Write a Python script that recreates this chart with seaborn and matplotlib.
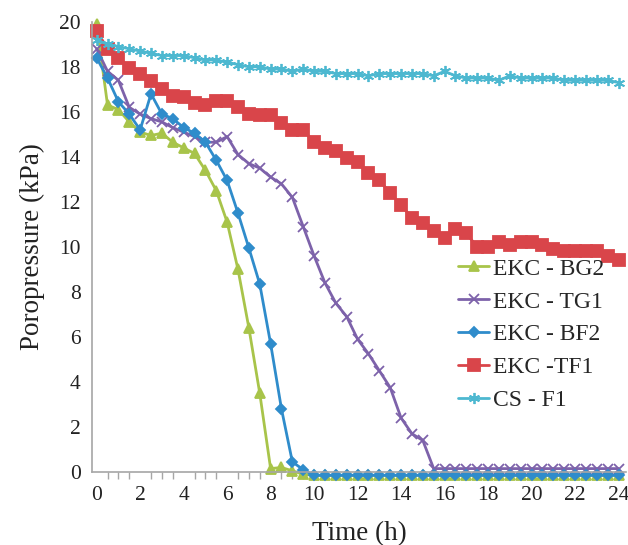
import numpy as np
import pandas as pd
import matplotlib
matplotlib.use("Agg")
import matplotlib.pyplot as plt
import seaborn as sns
from matplotlib.ticker import MultipleLocator

# Tiempo (h), un dato cada media hora
time_h = np.arange(0, 24.5, 0.5)

bg2 = [19.9, 16.3, 16.1, 15.55, 15.1, 14.95, 15.05, 14.65, 14.4, 14.15, 13.4, 12.5,
       11.1, 9.0, 6.4, 3.5, 0.15, 0.2, 0.05, -0.1] + [-0.15] * 29
tg1 = [18.8, 17.8, 17.4, 16.2, 15.9, 15.7, 15.55, 15.3, 15.1, 14.9, 14.65, 14.65,
       14.9, 14.1, 13.7, 13.5, 13.1, 12.8, 12.2, 10.9, 9.6, 8.4, 7.5, 6.9, 5.9,
       5.25, 4.5, 3.75, 2.4, 1.7, 1.4, 0.15] + [0.15] * 17
bf2 = [18.4, 17.5, 16.45, 15.9, 15.2, 16.8, 15.9, 15.7, 15.3, 15.05, 14.65, 13.85,
       12.95, 11.5, 9.95, 8.35, 5.7, 2.8, 0.45, 0.1] + [-0.15] * 29
tf1 = [19.6, 18.8, 18.4, 17.95, 17.7, 17.35, 17.0, 16.7, 16.65, 16.4, 16.3, 16.5,
       16.5, 16.2, 15.9, 15.85, 15.85, 15.5, 15.2, 15.2, 14.65, 14.4, 14.25, 13.95,
       13.75, 13.3, 12.95, 12.4, 11.85, 11.3, 11.05, 10.7, 10.4, 10.8, 10.6, 10.0,
       10.0, 10.2, 10.1, 10.2, 10.2, 10.1, 9.9, 9.8, 9.8, 9.8, 9.8, 9.6, 9.4]
csf1 = [19.2, 19.0, 18.9, 18.8, 18.7, 18.6, 18.5, 18.5, 18.5, 18.4, 18.3, 18.3,
        18.2, 18.1, 18.0, 18.0, 17.9, 17.9, 17.8, 17.9, 17.8, 17.8, 17.7, 17.7,
        17.7, 17.6, 17.7, 17.7, 17.7, 17.7, 17.7, 17.6, 17.8, 17.6, 17.5, 17.5,
        17.5, 17.4, 17.6, 17.5, 17.5, 17.5, 17.5, 17.4, 17.4, 17.4, 17.4, 17.4, 17.3]

series = {
    "EKC - BG2": bg2,
    "EKC - TG1": tg1,
    "EKC - BF2": bf2,
    "EKC -TF1": tf1,
    "CS - F1": csf1,
}

# estilo de cada serie: color, marcador, tamaño
estilos = {
    "EKC - BG2": ("#A8C44A", "^", 7),
    "EKC - TG1": ("#7D62AA", "x", 7),
    "EKC - BF2": ("#2F8CCB", "D", 5.5),
    "EKC -TF1": ("#D9454A", "s", 8.5),
    "CS - F1": ("#4DB8D0", (6, 2, 0), 8),
}

sns.set_style("white")
plt.rcParams["font.family"] = ["Liberation Serif", "DejaVu Serif"]

fig = plt.figure(figsize=(6.28, 5.45), dpi=100)
ax = fig.add_axes([0.147, 0.134, 0.85, 0.826])

for nombre, valores in series.items():
    color, marcador, ms = estilos[nombre]
    df = pd.DataFrame({"t": time_h, "p": valores})
    sns.lineplot(data=df, x="t", y="p", ax=ax, color=color, marker=marcador,
                 markersize=ms, markeredgecolor=color, markeredgewidth=1.3,
                 linewidth=2, label=nombre, clip_on=False)

ax.set_xlim(-0.2, 24.35)
ax.set_ylim(0, 20)
ax.xaxis.set_major_locator(MultipleLocator(2))
ax.xaxis.set_minor_locator(MultipleLocator(0.5))
ax.yaxis.set_major_locator(MultipleLocator(2))

for lado in ["top", "right"]:
    ax.spines[lado].set_visible(False)
for lado in ["left", "bottom"]:
    ax.spines[lado].set_color("#A6A6A6")
    ax.spines[lado].set_linewidth(1.2)

ax.tick_params(axis="both", which="both", direction="out", length=5,
               color="#A6A6A6", width=1, labelsize=15.5, labelcolor="#222222")
ax.tick_params(axis="y", which="minor", left=False)
ax.tick_params(axis="x", which="minor", bottom=True)
ax.tick_params(axis="x", pad=5)

ax.set_xlabel("Time (h)", fontsize=19.5, labelpad=12, color="#222222")
ax.set_ylabel("Poropressure (kPa)", fontsize=19.5, labelpad=10, color="#222222")

ax.legend(loc="center left", bbox_to_anchor=(0.668, 0.305), frameon=False,
          borderaxespad=0, fontsize=17, labelspacing=0.48, handlelength=1.3,
          handletextpad=0.15)

fig.savefig("out.png", dpi=100)
